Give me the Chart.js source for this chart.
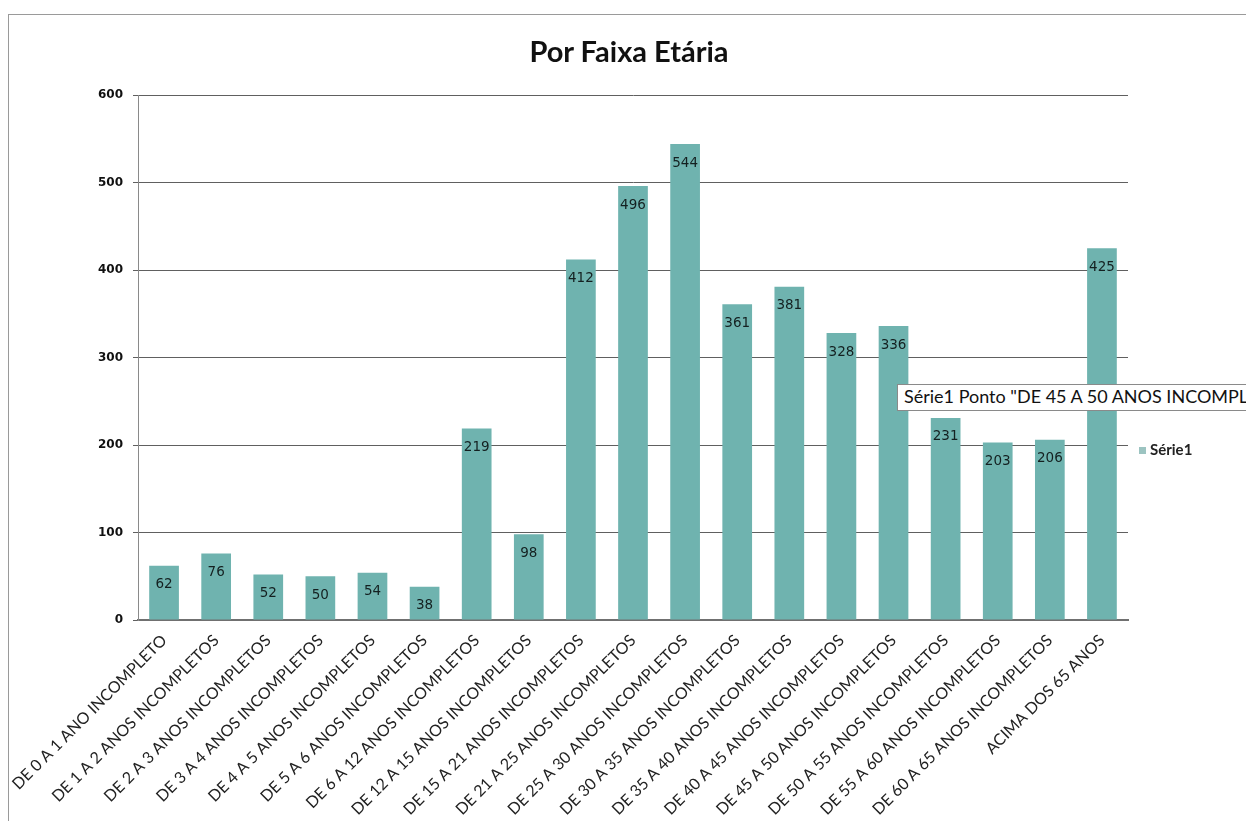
<!DOCTYPE html>
<html>
<head>
<meta charset="utf-8">
<script src="https://cdn.jsdelivr.net/npm/chart.js@4"></script>
<style>
    html, body { margin: 0; padding: 0; background: #fff; overflow: hidden; }
    #wrap { position: relative; width: 1246px; height: 821px; overflow: hidden; }
    #frame { position: absolute; left: 8px; top: 14px; width: 1300px; height: 900px;
             border-left: 1px solid #9a9a9a; border-top: 1px solid #9a9a9a; }
    #chart { position: absolute; left: 0; top: 0; }
    #titulo { position: absolute; left: 429px; width: 400px; top: 33px; text-align: center;
              font: bold 29px Lato, sans-serif; color: #111; }
    #legend { position: absolute; left: 1139px; top: 440px; font: bold 15px Lato, sans-serif; color: #222; }
    #legend span.box { display: inline-block; width: 7px; height: 7px; background: #9cc4c1; margin-right: 4px; vertical-align: 1px; }
    #tip { position: absolute; left: 897px; top: 384px; height: 25px; line-height: 25px; padding: 0 6px;
           background: #fff; border: 1px solid #8a8a8a; white-space: nowrap;
           font: 18px Lato, sans-serif; color: #111; }
</style>
</head>
<body>
<div id="wrap">
    <div id="frame"></div>
    <canvas id="chart" width="1246" height="821"></canvas>
    <div id="titulo">Por Faixa Etária</div>
    <div id="legend"><span class="box"></span>Série1</div>
    <div id="tip">Série1 Ponto "DE 45 A 50 ANOS INCOMPLETOS" Valor: 336</div>
</div>
<script>
    const categorias = [
        'DE 0 A 1 ANO INCOMPLETO',
        'DE 1 A 2 ANOS INCOMPLETOS',
        'DE 2 A 3 ANOS INCOMPLETOS',
        'DE 3 A 4 ANOS INCOMPLETOS',
        'DE 4 A 5 ANOS INCOMPLETOS',
        'DE 5 A 6 ANOS INCOMPLETOS',
        'DE 6 A 12 ANOS INCOMPLETOS',
        'DE 12 A 15 ANOS INCOMPLETOS',
        'DE 15 A 21 ANOS INCOMPLETOS',
        'DE 21 A 25 ANOS INCOMPLETOS',
        'DE 25 A 30 ANOS INCOMPLETOS',
        'DE 30 A 35 ANOS INCOMPLETOS',
        'DE 35 A 40 ANOS INCOMPLETOS',
        'DE 40 A 45 ANOS INCOMPLETOS',
        'DE 45 A 50 ANOS INCOMPLETOS',
        'DE 50 A 55 ANOS INCOMPLETOS',
        'DE 55 A 60 ANOS INCOMPLETOS',
        'DE 60 A 65 ANOS INCOMPLETOS',
        'ACIMA DOS 65 ANOS'
    ];
    const serie1 = [62, 76, 52, 50, 54, 38, 219, 98, 412, 496, 544, 361, 381, 328, 336, 231, 203, 206, 425];
    const yMin = 0;
    const yMax = 600;
    const yPasso = 100;

    // rótulos de valor dentro da barra, perto do topo
    const rotulosPlugin = {
        id: 'rotulos',
        afterDatasetsDraw(chart) {
            const ctx = chart.ctx;
            const meta = chart.getDatasetMeta(0);
            ctx.save();
            ctx.font = '13.5px "DejaVu Sans", sans-serif';
            ctx.fillStyle = '#142020';
            ctx.textAlign = 'center';
            ctx.textBaseline = 'middle';
            meta.data.forEach((bar, i) => {
                ctx.fillText(String(serie1[i]), bar.x, bar.y + 19);
            });
            ctx.restore();
        }
    };

    const ctx = document.getElementById('chart').getContext('2d');
    new Chart(ctx, {
        type: 'bar',
        data: {
            labels: categorias,
            datasets: [{
                label: 'Série1',
                data: serie1,
                backgroundColor: '#6fb3af',
                borderWidth: 0,
                barPercentage: 0.57,
                categoryPercentage: 1.0
            }]
        },
        options: {
            responsive: false,
            animation: false,
            layout: { padding: { left: 0, right: 118, top: 95, bottom: 0 } },
            plugins: {
                legend: { display: false },
                tooltip: { enabled: false },
                title: { display: false }
            },
            scales: {
                x: {
                    grid: { display: false },
                    border: { color: '#707070', width: 2 },
                    ticks: {
                        autoSkip: false,
                        minRotation: 45,
                        maxRotation: 45,
                        color: '#222',
                        font: { family: 'Lato', size: 16 }
                    },
                    afterFit(scale) { scale.height = 201; }
                },
                y: {
                    min: yMin,
                    max: yMax,
                    ticks: {
                        stepSize: yPasso,
                        color: '#111',
                        padding: 10,
                        font: { family: 'DejaVu Sans', size: 12, weight: 'bold' }
                    },
                    grid: { color: '#606060', lineWidth: 1, tickLength: 5 },
                    border: { color: '#8a8a8a' },
                    afterFit(scale) { scale.width = 138; }
                }
            }
        },
        plugins: [rotulosPlugin]
    });
</script>
</body>
</html>
